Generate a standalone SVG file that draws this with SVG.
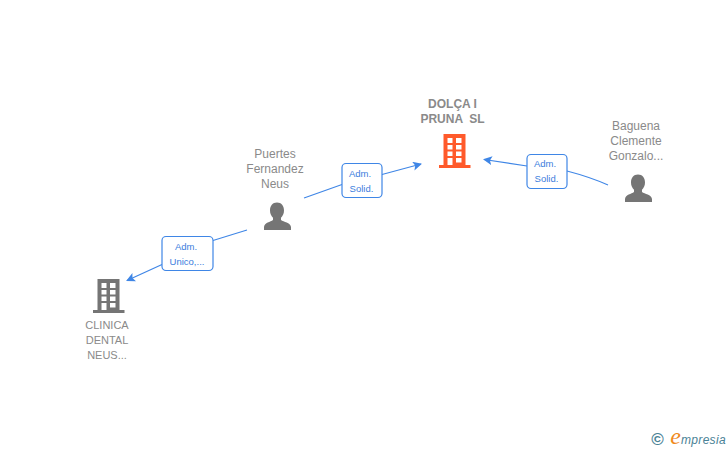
<svg xmlns="http://www.w3.org/2000/svg" width="728" height="450" viewBox="0 0 728 450">
<style>
text{font-family:"Liberation Sans",Arial,sans-serif;text-anchor:middle}
.n{font-size:12px;fill:#8a8a8a}
.c{font-size:11px;fill:#8a8a8a}
.b{font-size:12px;font-weight:bold;fill:#8a8a8a}
.l{font-size:9.500px;fill:#3b7ddd}
.e{fill:none;stroke:#3f86e6;stroke-width:1.100}
.box{fill:#fff;stroke:#3f86e6;stroke-width:1.200}
.p{fill:#757575}
</style>
<defs>
<marker id="a" markerWidth="11" markerHeight="11" refX="8" refY="4.500" orient="auto" markerUnits="userSpaceOnUse"><path d="M0 0L9 4.500L0 9L2 4.500Z" fill="#3f86e6"/></marker>
<path id="bld" fill-rule="evenodd" d="M4.500 0H26.500V31H31.500V34H0V31H4.500ZM8.500 4V9H13.500V4ZM17 4V9H22.500V4ZM8.500 11V15.500H13.500V11ZM17 11V15.500H22.500V11ZM8.500 17.500V22H13.500V17.500ZM17 17.500V22H22.500V17.500ZM8.500 24V31H13.500V24ZM17 24V28.500H22.500V24Z"/>
<path id="per" d="M12.500 0C17 0 19.500 3.500 19.500 8C19.500 11 18.300 13.500 16.500 15.200V17.500C19 19.500 26 20 26.500 24.500V27.500H-0.500V24.500C0 20 6 19.500 8.500 17.500V15.200C6.700 13.500 5.500 11 5.500 8C5.500 3.500 8 0 12.500 0Z"/>
</defs>
<g id="connectors">
<path class="e" d="M247 230L213 240.500"/>
<path class="e" d="M162 264.500L127 280.500" marker-end="url(#a)"/>
<path class="e" d="M304 198L342 184.500"/>
<path class="e" d="M382 174.500L421 164" marker-end="url(#a)"/>
<path class="e" d="M608 185Q590 177 567 171"/>
<path class="e" d="M527 166L484 159.500" marker-end="url(#a)"/>
</g>
<g id="label-unico"><rect class="box" x="162" y="236.500" width="51" height="34" rx="4"/><text class="l" x="186" y="250">Adm.</text><text class="l" x="187" y="265">Unico,...</text></g>
<g id="label-solid-1"><rect class="box" x="342" y="163.500" width="40" height="34" rx="4"/><text class="l" x="360" y="177">Adm.</text><text class="l" x="361.500" y="192">Solid.</text></g>
<g id="label-solid-2"><rect class="box" x="527" y="154.500" width="40" height="34" rx="4"/><text class="l" x="545" y="167">Adm.</text><text class="l" x="546.500" y="182">Solid.</text></g>
<g id="node-dolca"><text class="b" x="452.500" y="108">DOLÇA I</text><text class="b" x="452.500" y="123" xml:space="preserve">PRUNA  SL</text><use href="#bld" x="439" y="134" fill="#ff5a2b"/></g>
<g id="node-baguena"><text class="n" x="636" y="130">Baguena</text><text class="n" x="636" y="145">Clemente</text><text class="n" x="636" y="160">Gonzalo...</text><use class="p" href="#per" x="625.500" y="174.500"/></g>
<g id="node-puertes"><text class="n" x="275" y="158">Puertes</text><text class="n" x="275" y="173">Fernandez</text><text class="n" x="275" y="188">Neus</text><use class="p" href="#per" x="264.500" y="202.500"/></g>
<g id="node-clinica"><use href="#bld" x="93" y="279" fill="#757575"/><text class="c" x="107" y="329">CLINICA</text><text class="c" x="107" y="344">DENTAL</text><text class="c" x="107" y="359">NEUS...</text></g>
<g id="logo"><text x="657.500" y="445" style="font-size:17px;font-weight:bold;fill:#4a8296">©</text><text x="698" y="444" style="font-size:12px;font-style:italic;fill:#4a8296;letter-spacing:0.300px"><tspan style="font-size:24px;fill:#f08a1d;font-family:'Liberation Serif',serif">e</tspan>mpresia</text></g>
</svg>
